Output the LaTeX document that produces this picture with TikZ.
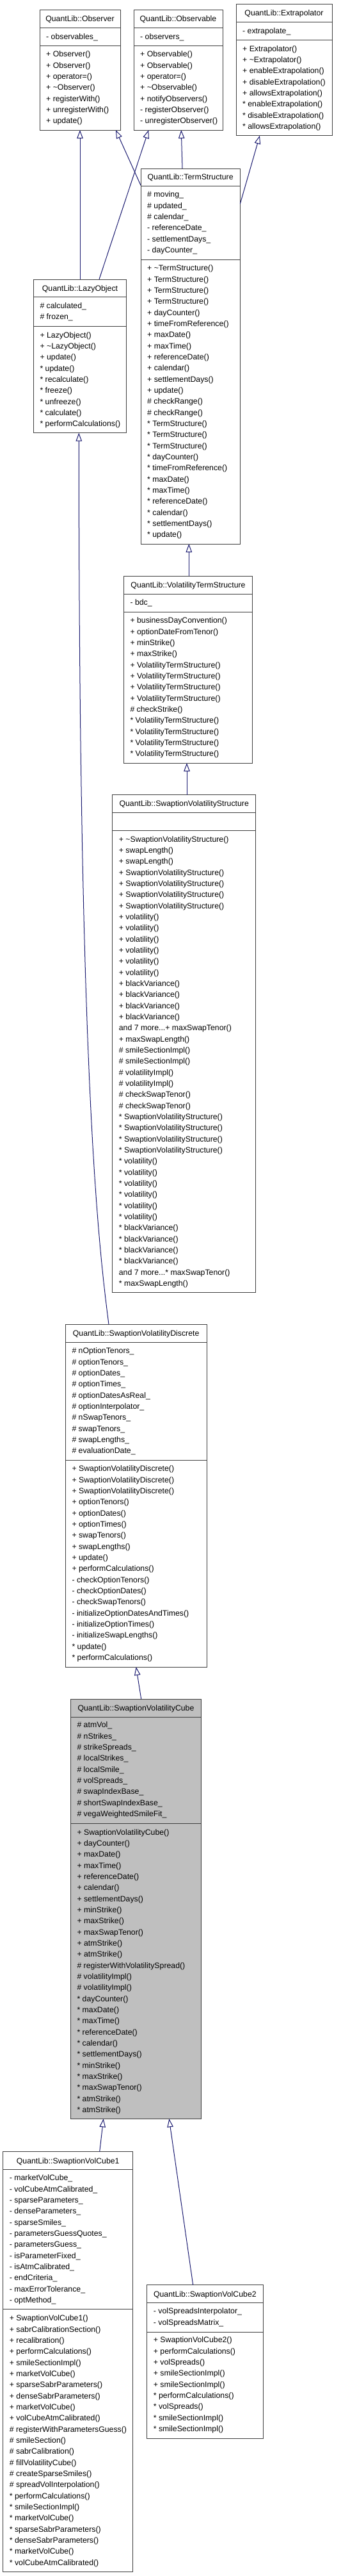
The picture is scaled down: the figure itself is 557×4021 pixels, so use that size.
\documentclass[tikz,border=0pt]{standalone}
\usepackage{fontspec}
\newfontfamily\umlfont{Liberation Sans}
\usetikzlibrary{arrows.meta,fit}
\definecolor{navy}{RGB}{25,25,112}
\definecolor{boxgray}{RGB}{191,191,191}
\definecolor{edgegray}{RGB}{64,64,64}
\tikzset{
  classbox/.style={draw=edgegray, line width=1pt, inner sep=0pt, outer sep=0pt},
  boxline/.style={draw=edgegray, line width=1pt},
  titletext/.style={font=\umlfont\fontsize{12.3}{17.33}\selectfont, inner sep=0pt, text height=8.8pt, text depth=0pt},
  membertext/.style={font=\umlfont\fontsize{12.3}{17.33}\selectfont, inner sep=0pt, anchor=north west, align=left},
  inh/.style={draw=navy, line width=1pt, -{Triangle[length=13pt,width=9.5pt,fill=white]}}
}
\newcommand{\klass}[9]{%
  \coordinate (#1-nw) at (#2,#3);
  \coordinate (#1-se) at (#4,#5);
  \node[classbox, fill=#8, fit=(#1-nw)(#1-se)] (#1) {};
  \draw[boxline] (#2,#6) -- (#4,#6);
  \draw[boxline] (#2,#7) -- (#4,#7);
  \node[titletext] (#1-title) at ({(#2+#4)/2},{(#3+#6)/2}) {#9};
}
\newcommand{\members}[4]{\node[membertext] (#1) at ({#2+10},{#3-7.9}) {\strut#4};}
\begin{document}
\begin{tikzpicture}[x=1pt,y=-1pt]
\useasboundingbox[fill=white] (0,0) rectangle (557,4021);

% Observer
\klass{observer}{62}{15}{188}{203}{43}{71}{white}{QuantLib::Observer}
\members{observer-a}{62}{56.7}{- observables\_}
\members{observer-m}{62}{84.3}{+ Observer()\\+ Observer()\\+ operator=()\\+ \textasciitilde Observer()\\+ registerWith()\\+ unregisterWith()\\+ update()}

% Observable
\klass{observable}{209}{15}{348}{203}{43}{71}{white}{QuantLib::Observable}
\members{observable-a}{209}{56.7}{- observers\_}
\members{observable-m}{209}{84.3}{+ Observable()\\+ Observable()\\+ operator=()\\+ \textasciitilde Observable()\\+ notifyObservers()\\- registerObserver()\\- unregisterObserver()}

% Extrapolator
\klass{extrap}{369}{6.7}{519}{211.7}{34}{62}{white}{QuantLib::Extrapolator}
\members{extrap-a}{369}{47.7}{- extrapolate\_}
\members{extrap-m}{369}{75.7}{+ Extrapolator()\\+ \textasciitilde Extrapolator()\\+ enableExtrapolation()\\+ disableExtrapolation()\\+ allowsExtrapolation()\\{*} enableExtrapolation()\\{*} disableExtrapolation()\\{*} allowsExtrapolation()}

% TermStructure
\klass{ts}{220}{263}{375.3}{849}{290}{405.3}{white}{QuantLib::TermStructure}
\members{ts-a}{220}{303.3}{\# moving\_\\\# updated\_\\\# calendar\_\\- referenceDate\_\\- settlementDays\_\\- dayCounter\_}
\members{ts-m}{220}{418.3}{+ \textasciitilde TermStructure()\\+ TermStructure()\\+ TermStructure()\\+ TermStructure()\\+ dayCounter()\\+ timeFromReference()\\+ maxDate()\\+ maxTime()\\+ referenceDate()\\+ calendar()\\+ settlementDays()\\+ update()\\\# checkRange()\\\# checkRange()\\{*} TermStructure()\\{*} TermStructure()\\{*} TermStructure()\\{*} dayCounter()\\{*} timeFromReference()\\{*} maxDate()\\{*} maxTime()\\{*} referenceDate()\\{*} calendar()\\{*} settlementDays()\\{*} update()}

% LazyObject
\klass{lazy}{52.3}{436}{197.7}{675.7}{463.7}{509.3}{white}{QuantLib::LazyObject}
\members{lazy-a}{52.3}{476.7}{\# calculated\_\\\# frozen\_}
\members{lazy-m}{52.3}{522.7}{+ LazyObject()\\+ \textasciitilde LazyObject()\\+ update()\\{*} update()\\{*} recalculate()\\{*} freeze()\\{*} unfreeze()\\{*} calculate()\\{*} performCalculations()}

% VolatilityTermStructure
\klass{vts}{193.3}{899}{394.7}{1191}{927}{955.3}{white}{QuantLib::VolatilityTermStructure}
\members{vts-a}{193.3}{940.3}{- bdc\_}
\members{vts-m}{193.3}{968.3}{+ businessDayConvention()\\+ optionDateFromTenor()\\+ minStrike()\\+ maxStrike()\\+ VolatilityTermStructure()\\+ VolatilityTermStructure()\\+ VolatilityTermStructure()\\+ VolatilityTermStructure()\\\# checkStrike()\\{*} VolatilityTermStructure()\\{*} VolatilityTermStructure()\\{*} VolatilityTermStructure()\\{*} VolatilityTermStructure()}

% SwaptionVolatilityStructure
\klass{svs}{175.7}{1240.7}{399.7}{2017.7}{1268}{1296.7}{white}{QuantLib::SwaptionVolatilityStructure}
\members{svs-m}{175.7}{1309.7}{+ \textasciitilde SwaptionVolatilityStructure()\\+ swapLength()\\+ swapLength()\\+ SwaptionVolatilityStructure()\\+ SwaptionVolatilityStructure()\\+ SwaptionVolatilityStructure()\\+ SwaptionVolatilityStructure()\\+ volatility()\\+ volatility()\\+ volatility()\\+ volatility()\\+ volatility()\\+ volatility()\\+ blackVariance()\\+ blackVariance()\\+ blackVariance()\\+ blackVariance()\\and 7 more...+ maxSwapTenor()\\+ maxSwapLength()\\\# smileSectionImpl()\\\# smileSectionImpl()\\\# volatilityImpl()\\\# volatilityImpl()\\\# checkSwapTenor()\\\# checkSwapTenor()\\{*} SwaptionVolatilityStructure()\\{*} SwaptionVolatilityStructure()\\{*} SwaptionVolatilityStructure()\\{*} SwaptionVolatilityStructure()\\{*} volatility()\\{*} volatility()\\{*} volatility()\\{*} volatility()\\{*} volatility()\\{*} volatility()\\{*} blackVariance()\\{*} blackVariance()\\{*} blackVariance()\\{*} blackVariance()\\and 7 more...{*} maxSwapTenor()\\{*} maxSwapLength()}

% SwaptionVolatilityDiscrete
\klass{svd}{102.3}{2067.3}{323}{2602}{2095.3}{2279.3}{white}{QuantLib::SwaptionVolatilityDiscrete}
\members{svd-a}{102.3}{2108.3}{\# nOptionTenors\_\\\# optionTenors\_\\\# optionDates\_\\\# optionTimes\_\\\# optionDatesAsReal\_\\\# optionInterpolator\_\\\# nSwapTenors\_\\\# swapTenors\_\\\# swapLengths\_\\\# evaluationDate\_}
\members{svd-m}{102.3}{2292.3}{+ SwaptionVolatilityDiscrete()\\+ SwaptionVolatilityDiscrete()\\+ SwaptionVolatilityDiscrete()\\+ optionTenors()\\+ optionDates()\\+ optionTimes()\\+ swapTenors()\\+ swapLengths()\\+ update()\\+ performCalculations()\\- checkOptionTenors()\\- checkOptionDates()\\- checkSwapTenors()\\- initializeOptionDatesAndTimes()\\- initializeOptionTimes()\\- initializeSwapLengths()\\{*} update()\\{*} performCalculations()}

% SwaptionVolatilityCube
\klass{svc}{110.3}{2652}{314.7}{3307.3}{2680}{2846.7}{boxgray}{QuantLib::SwaptionVolatilityCube}
\members{svc-a}{110.3}{2692.3}{\# atmVol\_\\\# nStrikes\_\\\# strikeSpreads\_\\\# localStrikes\_\\\# localSmile\_\\\# volSpreads\_\\\# swapIndexBase\_\\\# shortSwapIndexBase\_\\\# vegaWeightedSmileFit\_}
\members{svc-m}{110.3}{2859.7}{+ SwaptionVolatilityCube()\\+ dayCounter()\\+ maxDate()\\+ maxTime()\\+ referenceDate()\\+ calendar()\\+ settlementDays()\\+ minStrike()\\+ maxStrike()\\+ maxSwapTenor()\\+ atmStrike()\\+ atmStrike()\\\# registerWithVolatilitySpread()\\\# volatilityImpl()\\\# volatilityImpl()\\{*} dayCounter()\\{*} maxDate()\\{*} maxTime()\\{*} referenceDate()\\{*} calendar()\\{*} settlementDays()\\{*} minStrike()\\{*} maxStrike()\\{*} maxSwapTenor()\\{*} atmStrike()\\{*} atmStrike()}

% SwaptionVolCube1
\klass{cubeone}{4.7}{3358.7}{207.7}{4014}{3386.7}{3604.7}{white}{QuantLib::SwaptionVolCube1}
\members{cubeone-a}{4.7}{3399.3}{- marketVolCube\_\\- volCubeAtmCalibrated\_\\- sparseParameters\_\\- denseParameters\_\\- sparseSmiles\_\\- parametersGuessQuotes\_\\- parametersGuess\_\\- isParameterFixed\_\\- isAtmCalibrated\_\\- endCriteria\_\\- maxErrorTolerance\_\\- optMethod\_}
\members{cubeone-m}{4.7}{3618.3}{+ SwaptionVolCube1()\\+ sabrCalibrationSection()\\+ recalibration()\\+ performCalculations()\\+ smileSectionImpl()\\+ marketVolCube()\\+ sparseSabrParameters()\\+ denseSabrParameters()\\+ marketVolCube()\\+ volCubeAtmCalibrated()\\\# registerWithParametersGuess()\\\# smileSection()\\\# sabrCalibration()\\\# fillVolatilityCube()\\\# createSparseSmiles()\\\# spreadVolInterpolation()\\{*} performCalculations()\\{*} smileSectionImpl()\\{*} marketVolCube()\\{*} sparseSabrParameters()\\{*} denseSabrParameters()\\{*} marketVolCube()\\{*} volCubeAtmCalibrated()}

% SwaptionVolCube2
\klass{cubetwo}{229.7}{3566.7}{411}{3806}{3594.7}{3640}{white}{QuantLib::SwaptionVolCube2}
\members{cubetwo-a}{229.7}{3607.3}{- volSpreadsInterpolator\_\\- volSpreadsMatrix\_}
\members{cubetwo-m}{229.7}{3652.3}{+ SwaptionVolCube2()\\+ performCalculations()\\+ volSpreads()\\+ smileSectionImpl()\\+ smileSectionImpl()\\{*} performCalculations()\\{*} volSpreads()\\{*} smileSectionImpl()\\{*} smileSectionImpl()}

% Inheritance connectors
\draw[inh] ([xshift=72.7pt]lazy.north west) -- ([xshift=63pt]observer.south west);
\draw[inh] ([xshift=102.7pt]lazy.north west) -- ([xshift=23.3pt]observable.south west);
\draw[inh] ([yshift=-26.3pt]ts.north west) -- ([xshift=119pt]observer.south west);
\draw[inh] ([xshift=65pt]ts.north west) -- ([xshift=74.3pt]observable.south west);
\draw[inh] ([yshift=-55.3pt]ts.north east) -- ([xshift=37pt]extrap.south west);
\draw[inh] ([xshift=102pt]vts.north west) -- ([xshift=75.3pt]ts.south west);
\draw[inh] ([xshift=116.3pt]svs.north west) -- ([xshift=98.7pt]vts.south west);
\draw[inh] ([xshift=67.7pt]svd.north west) .. controls (155,1950) and (123.3,1700) .. ([xshift=71pt]lazy.south west);
\draw[inh] ([xshift=110.4pt]svc.north west) -- ([xshift=110.4pt]svd.south west);
\draw[inh] ([xshift=151pt]cubeone.north west) -- ([xshift=51.4pt]svc.south west);
\draw[inh] ([xshift=72pt]cubetwo.north west) -- ([xshift=154pt]svc.south west);
\end{tikzpicture}
\end{document}
